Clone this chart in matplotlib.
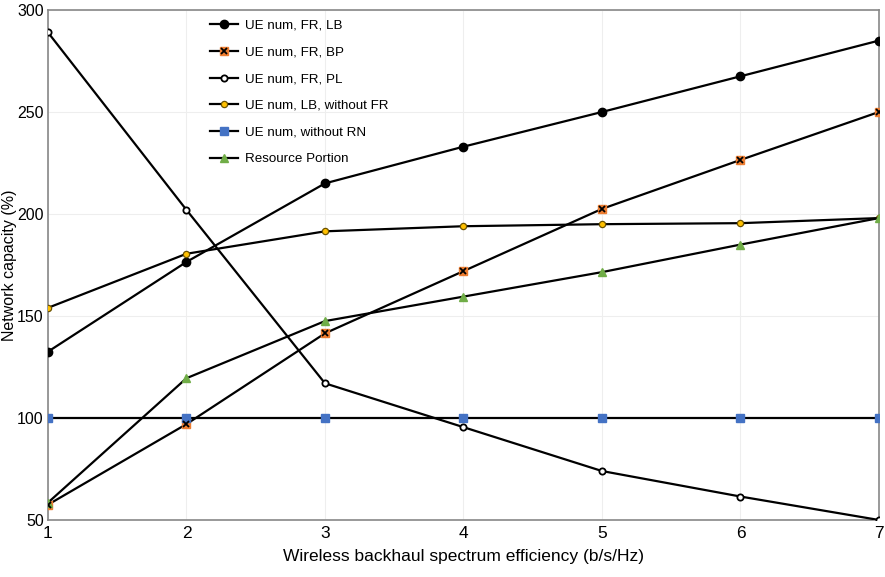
import matplotlib.pyplot as plt
import numpy as np

efficiency = [1, 2, 3, 4, 5, 6, 7]
fr_lb = [132.5, 176.5, 215, 233, 250, 267.5, 285]
fr_bp = [57.5, 97, 141.5, 172, 202.5, 226.5, 250]
fr_pl = [289, 202, 117, 95.5, 74, 61.5, 50]
lb_no_fr = [154, 180.5, 191.5, 194, 195, 195.5, 198]
no_rn = [100, 100, 100, 100, 100, 100, 100]
resource_portion = [58.5, 119.5, 147.5, 159.5, 171.5, 185, 198]

labels = ["UE num, FR, LB", "UE num, FR, BP", "UE num, FR, PL",
          "UE num, LB, without FR", "UE num, without RN", "Resource Portion"]

plt.rcParams['font.family'] = ['Liberation Sans', 'DejaVu Sans']

fig = plt.figure(figsize=(8.85, 5.77), dpi=100)
ax = fig.add_axes([0.0542, 0.0988, 0.9390, 0.8839])

lw = 1.6
h1, = ax.plot(efficiency, fr_lb, color="black", lw=lw, marker="o", ms=6,
              mfc="black", mec="black", zorder=3)
h2, = ax.plot(efficiency, fr_bp, color="black", lw=lw, marker="s", ms=5.5,
              mfc="#ED7D31", mec="#ED7D31", zorder=3)
h2x, = ax.plot(efficiency, fr_bp, ls="none", marker="x", ms=4,
               mec="black", mew=1.3, zorder=4)
h3, = ax.plot(efficiency, fr_pl, color="black", lw=lw, marker="o", ms=4.5,
              mfc="white", mec="black", mew=1.3, zorder=3)
h4, = ax.plot(efficiency, lb_no_fr, color="black", lw=lw, marker="o", ms=4.5,
              mfc="#FFC000", mec="#6B5200", mew=0.9, zorder=3)
h5, = ax.plot(efficiency, no_rn, color="black", lw=lw, marker="s", ms=6,
              mfc="#4472C4", mec="#4472C4", zorder=3)
h6, = ax.plot(efficiency, resource_portion, color="black", lw=lw, marker="^", ms=5.5,
              mfc="#70AD47", mec="#70AD47", zorder=3)

ax.set_xlim(1, 7)
ax.set_ylim(50, 300)
ax.set_xticks(efficiency)
ax.set_yticks(np.arange(50, 301, 50))
ax.tick_params(axis="x", length=0, labelsize=12.5, pad=4)
ax.tick_params(axis="y", length=0, labelsize=11.5, pad=3)
ax.grid(color="#eeeeee", lw=0.8)
ax.set_axisbelow(True)
for s in ax.spines.values():
    s.set_color("#888888")
    s.set_linewidth(1.2)

ax.set_xlabel("Wireless backhaul spectrum efficiency (b/s/Hz)", fontsize=12.5, labelpad=6)
ax.set_ylabel("Network capacity (%)", fontsize=11.5, va="center")
ax.yaxis.set_label_coords(-0.046, 0.5)

ax.legend([h1, (h2, h2x), h3, h4, h5, h6], labels,
          loc="upper left", bbox_to_anchor=(0.18, 1.005), frameon=False,
          fontsize=9.6, labelspacing=1.08, handlelength=2.1, handletextpad=0.55)

fig.savefig("out.png", dpi=100)
